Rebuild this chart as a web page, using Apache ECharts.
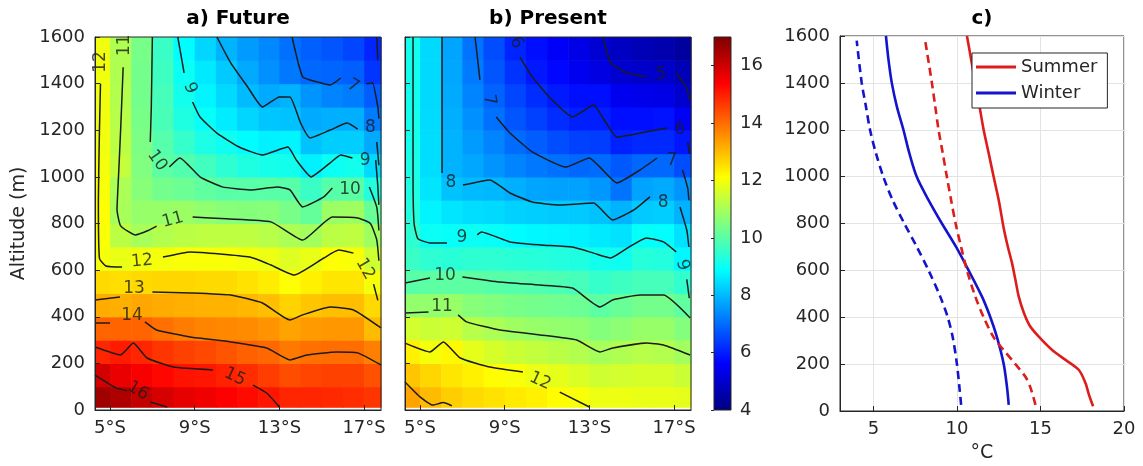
<!DOCTYPE html>
<html><head><meta charset="utf-8">
<script src="https://cdn.jsdelivr.net/npm/echarts@6.0.0/dist/echarts.min.js"></script>
<style>html,body{margin:0;padding:0;background:#fff}#chart{width:1143px;height:466px}</style>
</head><body><div id="chart"></div>
<script>
// ---------- data ----------
const lats = [4.5,5.5,6.5,7.5,8.5,9.5,10.5,11.5,12.5,13.5,14.5,15.5,16.5,17.5];
const alts = [50,150,250,350,450,550,650,750,850,950,1050,1150,1250,1350,1450,1550];
const latTicks = [5,9,13,17];
const colorTicks = [4,6,8,10,12,14,16];
const tempTicks = [5,10,15,20];
const colorMin = 4, colorMax = 17;

// temperature (°C), rows = alts (bottom->top), cols = lats
const futureGrid = [
 [16.6,16.4,16.15,15.9,15.7,15.55,15.4,15.25,15.1,14.9,14.9,14.85,14.8,14.7],
 [15.95,15.65,15.45,15.3,15.15,15.1,14.95,14.8,14.6,14.4,14.5,14.55,14.55,14.35],
 [14.9,15.05,14.9,14.7,14.55,14.45,14.3,14.15,14.05,13.85,13.95,14.0,14.0,13.75],
 [14.1,14.1,14.1,13.95,13.8,13.7,13.65,13.6,13.5,13.3,13.4,13.45,13.45,13.0],
 [13.2,13.15,13.25,13.2,13.15,13.1,13.1,13.05,12.95,12.7,12.85,12.95,12.95,12.6],
 [12.6,12.55,12.6,12.65,12.65,12.6,12.6,12.5,12.35,12.1,12.3,12.45,12.45,12.0],
 [12.0,11.85,11.95,12.0,12.05,12.05,12.05,12.0,11.9,11.7,11.85,12.1,12.05,11.5],
 [12.05,11.25,11.0,11.15,11.25,11.3,11.3,11.3,11.2,11.05,10.95,11.25,11.3,10.9],
 [12.1,11.0,10.8,10.8,10.85,10.7,10.6,10.55,10.6,10.4,10.15,10.85,10.9,10.2],
 [12.05,11.05,10.6,10.35,10.25,10.1,10.0,9.98,10.0,9.98,9.6,9.98,10.0,9.3],
 [12.0,11.35,10.5,10.05,9.9,9.7,9.45,9.25,9.15,9.1,8.7,9.0,9.1,8.4],
 [11.95,11.25,10.45,9.95,9.55,9.2,9.05,8.85,8.7,8.75,8.1,8.25,8.25,7.8],
 [11.95,11.2,10.4,9.8,9.25,8.95,8.65,8.35,8.15,8.1,7.8,7.85,7.85,7.2],
 [11.95,11.15,10.35,9.75,9.1,8.75,8.4,8.0,7.8,7.9,7.5,7.3,7.2,6.8],
 [11.95,11.1,10.35,9.65,9.0,8.6,8.2,7.8,7.45,7.15,6.95,6.9,6.85,6.3],
 [11.95,11.1,10.4,9.6,8.85,8.35,7.9,7.6,7.35,7.05,6.85,6.7,6.5,6.1]
];
const presentGrid = [
 [13.3,13.0,12.75,12.6,12.5,12.4,12.3,12.15,12.05,11.9,11.9,11.85,11.85,11.8],
 [12.85,12.65,12.45,12.3,12.15,12.05,11.9,11.8,11.65,11.5,11.55,11.6,11.6,11.45],
 [12.3,12.0,12.2,11.8,11.6,11.45,11.35,11.25,11.15,11.0,11.1,11.2,11.15,10.95],
 [11.55,11.45,11.5,11.2,11.05,10.9,10.8,10.75,10.7,10.55,10.65,10.8,10.8,10.55],
 [10.75,10.75,10.8,10.6,10.5,10.4,10.35,10.3,10.25,10.05,10.2,10.35,10.35,10.1],
 [10.0,10.05,10.05,10.05,10.0,9.95,9.9,9.85,9.75,9.55,9.65,9.75,9.75,9.5],
 [9.6,9.45,9.4,9.45,9.45,9.4,9.35,9.3,9.25,9.1,9.05,9.35,9.3,8.8],
 [9.45,9.0,8.95,9.0,8.95,8.85,8.8,8.75,8.7,8.6,8.5,8.95,8.9,8.5],
 [9.3,8.75,8.55,8.45,8.4,8.3,8.25,8.2,8.2,8.1,7.9,8.2,8.25,7.9],
 [9.25,8.55,8.1,8.0,7.97,7.85,7.72,7.68,7.68,7.55,7.1,7.7,7.8,7.5],
 [9.2,8.45,7.9,7.75,7.5,7.3,7.15,7.05,6.95,7.0,6.75,6.95,6.95,6.6],
 [9.15,8.45,7.9,7.6,7.3,7.0,6.8,6.6,6.45,6.4,6.05,6.15,6.15,5.9],
 [9.15,8.42,7.85,7.45,7.05,6.7,6.45,6.18,6.02,6.0,5.8,5.8,5.85,5.5],
 [9.1,8.4,7.8,7.3,6.88,6.5,6.2,5.95,5.8,5.8,5.45,5.35,5.3,5.0],
 [9.1,8.4,7.75,7.17,6.7,6.27,5.92,5.7,5.45,5.25,5.02,4.95,4.95,4.7],
 [9.1,8.4,7.72,7.1,6.6,6.08,5.8,5.55,5.3,5.06,4.85,4.7,4.6,4.4]
];

// contour line segments [lat, alt]
const futureContours = [
 [[4.29,150],[5.3,94],[5.8,82]],
 [[6.9,34],[7.7,13]],
 [[4.29,270],[5.5,236],[6.1,287],[6.75,223],[8.0,184],[9.86,172]],
 [[11.75,107],[12.4,73],[13.0,13]],
 [[4.29,373],[5.0,373]],
 [[6.65,378],[7.2,343],[8.8,313],[10.7,292],[12.4,266],[13.5,215],[14.3,236],[15.7,249],[16.7,245],[17.8,193]],
 [[4.29,472],[5.47,485]],
 [[7.0,506],[8.8,502],[10.7,493],[12.2,459],[13.5,386],[14.1,408],[15.4,442],[16.5,429],[17.8,352]],
 [[4.55,1400],[4.5,1200],[4.45,900],[4.5,650],[4.8,618],[5.57,613]],
 [[7.5,656],[8.8,678],[11.6,656],[12.6,622],[13.7,579],[15.1,652],[15.8,686],[16.5,673]],
 [[17.45,540],[17.65,470]],
 [[5.62,1470],[5.5,1200],[5.4,1000],[5.33,860],[5.5,790],[6.2,751],[6.8,770],[7.2,789]],
 [[8.9,828],[10.5,820],[12.6,807],[14.1,729],[15.5,828],[16.7,824],[17.3,800],[17.6,730],[17.7,640]],
 [[7.0,1600],[6.95,1300],[6.9,1150]],
 [[7.8,1042],[8.3,1081],[9.25,1000],[10.3,957],[11.6,944],[12.9,957],[13.5,944],[14.1,871],[15.1,914],[15.5,952]],
 [[17.25,957],[17.6,870],[17.7,770]],
 [[8.2,1600],[8.5,1446]],
 [[8.9,1321],[9.25,1257],[10.05,1188],[11.1,1128],[12.2,1094],[13.4,1128],[13.8,1072],[14.5,1000],[15.4,1060],[15.9,1094],[16.45,1081]],
 [[17.55,1072],[17.65,960],[17.7,880]],
 [[10.05,1600],[10.7,1489],[11.5,1386],[12.2,1300],[13.0,1343],[13.5,1343],[14.0,1231],[14.45,1167],[15.4,1201],[16.2,1231],[16.7,1205]],
 [[17.6,1150],[17.7,1050]],
 [[13.6,1600],[14.1,1429],[14.8,1407],[15.4,1394],[15.9,1424]],
 [[17.1,1400],[17.4,1403],[17.65,1300],[17.7,1250]],
 [[17.6,1600],[17.65,1500]]
];
const futureLabels = [
 [6.32,82,'16',-30],[10.9,142,'15',-25],[6.04,403,'14',0],[6.13,519,'13',0],
 [6.51,639,'12',5],[17.05,605,'12',-60],[4.53,1493,'12',90],[5.71,1565,'11',90],
 [7.97,815,'11',15],[7.22,1070,'10',-55],[16.34,944,'10',0],[8.78,1381,'9',-70],
 [17.05,1068,'9',0],[17.3,1210,'8',0],[16.48,1390,'7',-30]
];
const presentContours = [
 [[4.29,120],[5.0,56],[5.6,21],[6.1,32],[6.5,18]],
 [[4.29,287],[5.47,249],[6.1,292],[6.9,223],[8.3,184],[9.86,163]],
 [[11.6,77],[13.0,13]],
 [[4.29,416],[5.4,420]],
 [[6.8,408],[7.2,378],[8.78,343],[10.67,322],[12.4,300],[13.5,249],[14.1,266],[15.7,287],[16.5,279],[17.76,236]],
 [[4.29,545],[5.47,566]],
 [[7.0,571],[8.78,549],[10.67,536],[12.2,523],[13.5,442],[14.1,472],[15.4,493],[16.5,493],[17.76,395]],
 [[4.67,1600],[4.67,1000],[4.72,800],[4.9,735],[5.5,716],[6.27,716]],
 [[7.7,751],[7.9,764],[9.25,721],[10.7,708],[12.2,699],[13.2,673],[14.0,652],[14.8,695],[15.7,738],[16.5,721],[17.1,678]],
 [[17.6,560],[17.72,480]],
 [[6.04,1600],[6.04,1017]],
 [[7.03,965],[8.3,987],[9.25,931],[10.3,892],[11.6,879],[13.2,888],[14.1,815],[15.1,858],[15.86,914]],
 [[17.28,871],[17.6,772],[17.7,700]],
 [[7.6,1600],[7.83,1416]],
 [[8.6,1257],[9.25,1188],[10.3,1107],[11.9,1042],[13.0,1081],[13.5,1042],[14.3,974],[15.4,1030],[16.2,1081]],
 [[17.4,1030],[17.65,950],[17.7,900]],
 [[9.72,1514],[10.3,1429],[11.1,1343],[12.2,1257],[13.2,1308],[13.7,1244],[14.3,1171],[15.4,1188],[16.67,1210]],
 [[17.65,1150],[17.72,1100]],
 [[13.65,1600],[14.0,1489],[14.8,1446],[15.7,1429]],
 [[17.1,1446],[17.6,1380],[17.72,1330]]
];
const presentLabels = [
 [10.67,124,'12',-25],[6.04,442,'11',0],[6.18,575,'10',0],[6.98,738,'9',0],
 [17.4,622,'9',-75],[6.46,974,'8',0],[16.48,888,'8',0],[8.27,1330,'7',-80],
 [16.9,1072,'7',0],[9.55,1575,'6',-60],[17.28,1201,'6',0],[16.38,1437,'5',0]
];

// panel c profiles [°C, altitude]
const summerFuture = [[18.15,20],[17.9,70],[17.7,118],[17.3,175],[16.5,218],[15.7,260],[14.9,317],[14.35,365],[14.0,420],[13.7,488],[13.5,560],[13.3,630],[13.05,700],[12.8,780],[12.5,900],[12.2,998],[11.9,1100],[11.6,1199],[11.35,1300],[11.1,1400],[10.85,1500],[10.6,1600]];
const summerPresent = [[14.7,26],[14.4,100],[14.1,146],[13.5,200],[12.8,260],[12.2,314],[11.6,400],[11.1,488],[10.6,600],[10.25,700],[9.95,790],[9.65,900],[9.4,998],[9.15,1100],[8.9,1199],[8.7,1300],[8.5,1400],[8.1,1580]];
const winterFuture = [[13.1,26],[13.0,100],[12.8,200],[12.4,314],[12.0,400],[11.5,488],[10.7,600],[9.95,700],[9.1,800],[8.3,900],[7.6,998],[7.15,1100],[6.8,1199],[6.4,1300],[6.1,1400],[5.9,1500],[5.75,1600]];
const winterPresent = [[10.25,26],[10.15,100],[10.0,200],[9.75,314],[9.45,400],[9.0,488],[8.3,600],[7.6,700],[6.85,800],[6.15,900],[5.6,998],[5.15,1100],[4.8,1199],[4.55,1300],[4.3,1400],[4.0,1580]];

// ---------- styling ----------
const FONT = 'DejaVu Sans';
const TXT = '#262626';
const jet = ['#000080','#0000ff','#0080ff','#00ffff','#80ff80','#ffff00','#ff8000','#ff0000','#800000'];
const RED = '#dd1c1c', BLUE = '#1414cc';
const cellW = 1, cellH = 100, groundGap = 12;

function cells(grid){ const out=[]; grid.forEach((row,i)=>row.forEach((v,j)=>out.push([lats[j],alts[i],v]))); return out; }

function renderCell(params, api){
  const lat = api.value(0), alt = api.value(1);
  const p0 = api.coord([lat - cellW/2, alt + cellH/2]);
  const p1 = api.coord([lat + cellW/2, Math.max(alt - cellH/2, groundGap)]);
  const cs = params.coordSys;
  const r = echarts.graphic.clipRectByRect(
    {x:p0[0], y:p0[1], width:p1[0]-p0[0], height:p1[1]-p0[1]},
    {x:cs.x, y:cs.y, width:cs.width, height:cs.height});
  if (!r) return;
  return {type:'rect', shape:{x:r.x, y:r.y, width:r.width+0.6, height:r.height+0.6}, style:{fill: api.visual('color')}};
}
function renderBar(params, api){
  const p0 = api.coord([0, colorMax]);
  const p1 = api.coord([1, colorMin]);
  const stops = jet.map((c,i)=>({offset:i/(jet.length-1), color:c}));
  return {type:'rect', shape:{x:p0[0], y:p0[1], width:p1[0]-p0[0], height:p1[1]-p0[1]},
    style:{fill: new echarts.graphic.LinearGradient(0,1,0,0,stops)}};
}

const plain = v => String(v);
const axisLineS = {show:true, lineStyle:{color:TXT, width:1}};
function latAxis(gi){
  return {gridIndex:gi, type:'value', min:4.29, max:17.8, z:10,
    axisLine:axisLineS, splitLine:{show:false},
    axisTick:{show:true, inside:true, length:5, customValues:latTicks, lineStyle:{color:TXT}},
    axisLabel:{customValues:latTicks, formatter:v=>v+'°S', fontSize:18, color:TXT, margin:9, fontFamily:FONT}};
}
function altAxis(gi, showLabels, extra){
  return Object.assign({gridIndex:gi, type:'value', min:0, max:1600, interval:200, z:10,
    axisLine:axisLineS, splitLine:{show:false},
    axisTick:{show:true, inside:true, length:5, lineStyle:{color:TXT}},
    axisLabel:{show:showLabels, formatter:plain, fontSize:18, color:TXT, margin:10, fontFamily:FONT}}, extra||{});
}

const series = [];
series.push({type:'custom', renderItem:renderCell, xAxisIndex:0, yAxisIndex:0, data:cells(futureGrid), encode:{x:0,y:1}, z:2, silent:true});
series.push({type:'custom', renderItem:renderCell, xAxisIndex:1, yAxisIndex:1, data:cells(presentGrid), encode:{x:0,y:1}, z:2, silent:true});
series.push({type:'custom', renderItem:renderBar, xAxisIndex:2, yAxisIndex:2, data:[[0,colorMin]], z:2, silent:true});

function addContours(list, labels, idx){
  list.forEach(seg=>series.push({type:'line', xAxisIndex:idx, yAxisIndex:idx, data:seg, showSymbol:false, symbol:'none',
    smooth:0.15, lineStyle:{color:'#1c1c1c', width:1.5}, z:3, silent:true}));
  series.push({type:'scatter', xAxisIndex:idx, yAxisIndex:idx, symbolSize:0, z:4, silent:true,
    label:{show:true, position:'inside', formatter:'{b}', fontSize:17, color:'#1c1c1c', fontFamily:FONT},
    data:labels.map(l=>({name:l[2], value:[l[0],l[1]], label:{rotate:l[3]}}))});
}
addContours(futureContours, futureLabels, 0);
addContours(presentContours, presentLabels, 1);

function profile(name, data, color, dashed){
  series.push({name, type:'line', xAxisIndex:3, yAxisIndex:3, data, showSymbol:false, symbol:'none', smooth:0.3,
    lineStyle:{color, width:2.6, type: dashed ? [8,5] : 'solid'}, itemStyle:{color}, z:3, silent:true});
}
profile('Summer', summerFuture, RED, false);
profile('Winter', winterFuture, BLUE, false);
profile('Summer present', summerPresent, RED, true);
profile('Winter present', winterPresent, BLUE, true);

const option = {
  animation:false,
  backgroundColor:'#fff',
  textStyle:{fontFamily:FONT},
  grid:[
    {left:95, top:37, width:286, height:373, show:true, z:10, backgroundColor:'rgba(0,0,0,0)', borderColor:TXT, borderWidth:1, outerBoundsMode:'none'},
    {left:405, top:37, width:286, height:373, show:true, z:10, backgroundColor:'rgba(0,0,0,0)', borderColor:TXT, borderWidth:1, outerBoundsMode:'none'},
    {left:714, top:37, width:17, height:373, show:true, z:10, backgroundColor:'rgba(0,0,0,0)', borderColor:TXT, borderWidth:1, outerBoundsMode:'none'},
    {left:840, top:36, width:284, height:375, show:true, backgroundColor:'#fff', borderColor:TXT, borderWidth:1, outerBoundsMode:'none'}
  ],
  xAxis:[
    latAxis(0), latAxis(1),
    {gridIndex:2, type:'value', min:0, max:1, show:false},
    {gridIndex:3, type:'value', min:3, max:20, axisLine:axisLineS,
      axisTick:{show:true, inside:true, length:5, customValues:tempTicks, lineStyle:{color:TXT}},
      axisLabel:{customValues:tempTicks, fontSize:18, color:TXT, margin:9, fontFamily:FONT},
      splitLine:{show:true, lineStyle:{color:'#e3e3e3', width:1}},
      name:'°C', nameLocation:'middle', nameGap:33, nameTextStyle:{fontSize:19, color:TXT, fontFamily:FONT}}
  ],
  yAxis:[
    altAxis(0, true, {name:'Altitude (m)', nameLocation:'middle', nameGap:66, nameRotate:90, nameTextStyle:{fontSize:19, color:TXT, fontFamily:FONT}}),
    altAxis(1, false),
    {gridIndex:2, type:'value', min:colorMin, max:colorMax, position:'right', z:10,
      axisLine:{show:false}, splitLine:{show:false},
      axisTick:{show:true, inside:true, length:3, customValues:colorTicks, lineStyle:{color:TXT}},
      axisLabel:{customValues:colorTicks, fontSize:18, color:TXT, margin:9, fontFamily:FONT}},
    {gridIndex:3, type:'value', min:0, max:1600, interval:200, axisLine:axisLineS,
      axisTick:{show:true, inside:true, length:5, lineStyle:{color:TXT}},
      axisLabel:{formatter:plain, fontSize:18, color:TXT, margin:10, fontFamily:FONT},
      splitLine:{show:true, lineStyle:{color:'#e3e3e3', width:1}}}
  ],
  visualMap:{type:'continuous', show:false, min:colorMin, max:colorMax, dimension:2, seriesIndex:[0,1], inRange:{color:jet}},
  legend:{data:['Summer','Winter'], orient:'vertical', left:972, top:53, icon:'rect', itemWidth:40, itemHeight:3, itemGap:8,
    padding:[5,10,6,4], borderColor:TXT, borderWidth:1, backgroundColor:'#fff', selectedMode:false,
    textStyle:{fontSize:18, color:TXT, fontFamily:FONT}},
  graphic:[
    {type:'text', x:238, y:19, style:{text:'a) Future', font:'bold 20px "DejaVu Sans"', fill:'#000', align:'center', verticalAlign:'middle'}},
    {type:'text', x:548, y:19, style:{text:'b) Present', font:'bold 20px "DejaVu Sans"', fill:'#000', align:'center', verticalAlign:'middle'}},
    {type:'text', x:982, y:19, style:{text:'c)', font:'bold 20px "DejaVu Sans"', fill:'#000', align:'center', verticalAlign:'middle'}}
  ],
  series
};
const chart = echarts.init(document.getElementById('chart'));
chart.setOption(option);
</script></body></html>
